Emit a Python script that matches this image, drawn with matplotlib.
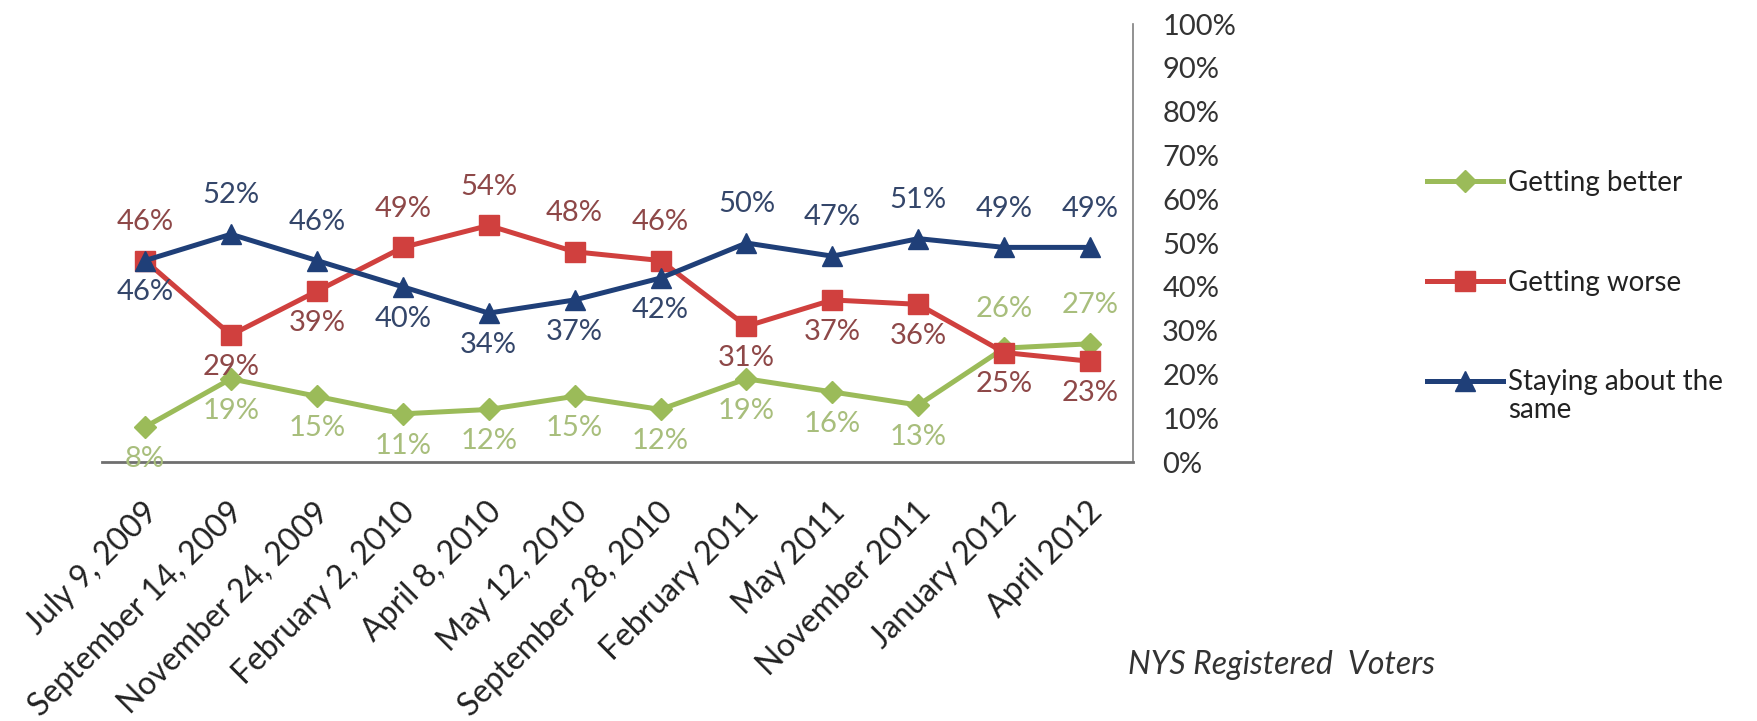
import matplotlib
matplotlib.use("Agg")
import matplotlib.pyplot as plt
from matplotlib.transforms import ScaledTranslation
from matplotlib.ticker import FixedLocator, FuncFormatter

plt.rcParams['font.family'] = ['Lato', 'DejaVu Sans']

dates = ["July 9, 2009", "September 14, 2009", "November 24, 2009", "February 2, 2010",
         "April 8, 2010", "May 12, 2010", "September 28, 2010", "February 2011",
         "May 2011", "November 2011", "January 2012", "April 2012"]
better = [8, 19, 15, 11, 12, 15, 12, 19, 16, 13, 26, 27]
worse = [46, 29, 39, 49, 54, 48, 46, 31, 37, 36, 25, 23]
same = [46, 52, 46, 40, 34, 37, 42, 50, 47, 51, 49, 49]

# label placement: +1 above, -1 below
better_pos = [-1, -1, -1, -1, -1, -1, -1, -1, -1, -1, 1, 1]
worse_pos = [1, -1, -1, 1, 1, 1, 1, -1, -1, -1, -1, -1]
same_pos = [-1, 1, 1, -1, -1, -1, -1, 1, 1, 1, 1, 1]

green = "#9BBB59"
red = "#D0403E"
blue = "#1F3F78"

fig = plt.figure(figsize=(17.57, 7.21), dpi=100)
ax = fig.add_axes([0.0581, 0.3592, 0.5868, 0.6075])

x = list(range(len(dates)))
l1, = ax.plot(x, better, color=green, lw=3.6, marker="D", ms=11, zorder=3)
l2, = ax.plot(x, worse, color=red, lw=3.6, marker="s", ms=15, zorder=3)
l3, = ax.plot(x, same, color=blue, lw=3.6, marker="^", ms=15, zorder=4)

ax.set_xlim(-0.5, len(dates) - 0.5)
ax.set_ylim(0, 100)

def annotate(vals, pos, color):
    for i, (v, p) in enumerate(zip(vals, pos)):
        dy = 28 if p > 0 else -23
        ax.annotate(f"{v}%", (i, v), xytext=(0, dy), textcoords="offset points",
                    ha="center", va="center", fontsize=21, color=color, zorder=5)

annotate(better, better_pos, "#A8BE7C")
annotate(worse, worse_pos, "#8E4848")
annotate(same, same_pos, "#34466A")

for s in ["top", "left"]:
    ax.spines[s].set_visible(False)
ax.spines["right"].set_color("#7F7F7F")
ax.spines["right"].set_linewidth(1.2)
ax.spines["bottom"].set_color("#6F6F6F")
ax.spines["bottom"].set_linewidth(2)

ax.yaxis.tick_right()
ax.yaxis.set_major_locator(FixedLocator(range(0, 101, 10)))
ax.yaxis.set_major_formatter(FuncFormatter(lambda v, p: f"{int(v)}%"))
ax.tick_params(axis="y", length=0, pad=21, labelsize=21, labelcolor="#333333")

ax.set_xticks(x)
ax.set_xticklabels(dates, rotation=45, ha="right", rotation_mode="anchor", fontsize=23, color="#222222")
ax.tick_params(axis="x", length=0, pad=25)
offset = ScaledTranslation(-0.03, 0, fig.dpi_scale_trans)
for lab in ax.get_xticklabels():
    lab.set_transform(lab.get_transform() + offset)

leg = fig.legend([l1, l2, l3], ["Getting better", "Getting worse", "Staying about the"],
                 loc="upper left", bbox_to_anchor=(0.812, 0.764), bbox_transform=fig.transFigure,
                 frameon=False, fontsize=20, handlelength=2.75, labelspacing=2.65,
                 handletextpad=0.18, borderpad=0, borderaxespad=0)
for t in leg.get_texts():
    t.set_color("#222222")

fig.canvas.draw()
bb = leg.get_texts()[2].get_window_extent()
fig.text(bb.x0 / fig.bbox.width, (bb.y0 - 2) / fig.bbox.height, "same", fontsize=20,
         color="#222222", ha="left", va="top")

fig.text(0.642, 0.0777, "NYS Registered  Voters", fontsize=23, style="italic",
         color="#333333", va="center")

fig.savefig("out.png", dpi=100)
